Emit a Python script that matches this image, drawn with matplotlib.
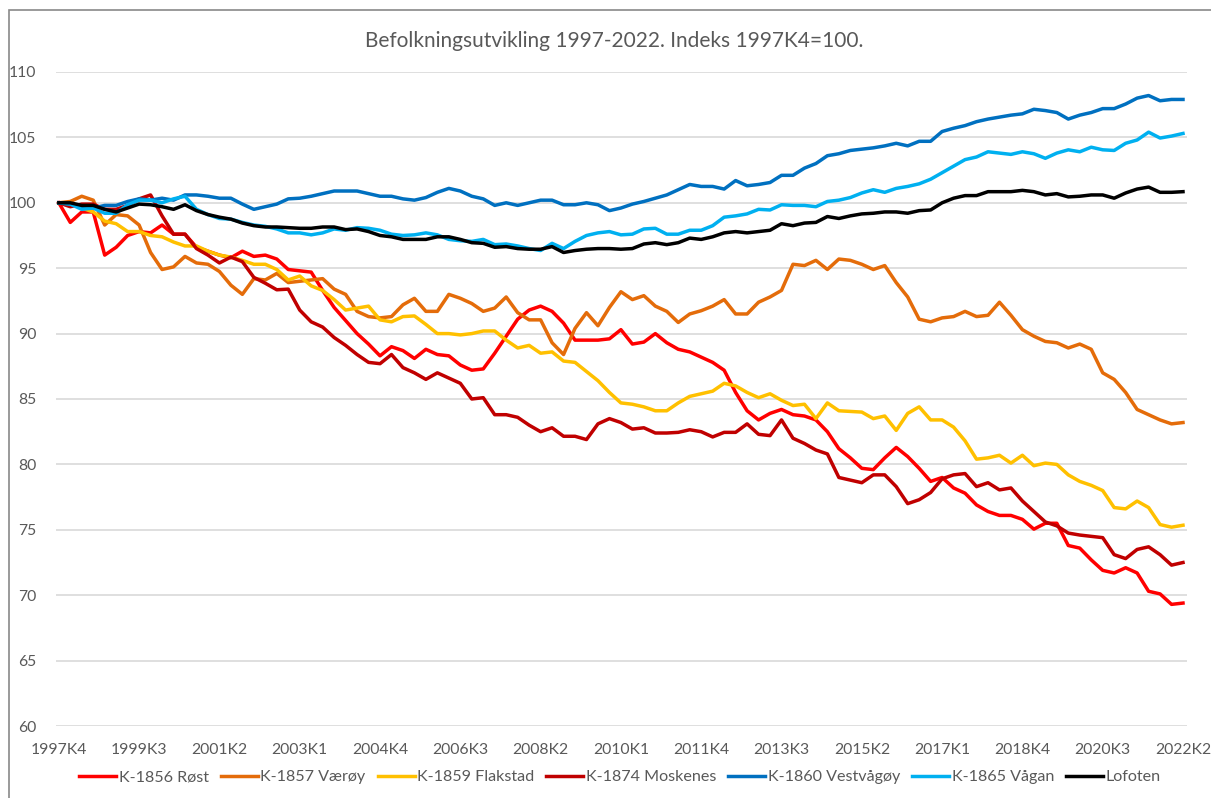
import matplotlib
matplotlib.use("Agg")
import matplotlib.pyplot as plt
from matplotlib.patches import Rectangle

plt.rcParams["font.family"] = ["Lato", "DejaVu Sans"]

# kvartaler 1997K4 .. 2022K2
kvartaler = ["1997K4"] + [f"{y}K{q}" for y in range(1998, 2022) for q in range(1, 5)] + ["2022K1", "2022K2"]

rost = [100, 98.5, 99.3, 99.3, 96.0, 96.6, 97.5, 97.8, 97.7, 98.3,
        97.6, 97.6, 96.6, 96.3, 96.0, 95.8, 96.3, 95.9, 96.0, 95.7,
        94.9, 94.8, 94.7, 93.3, 92.0, 91.0, 90.0, 89.2, 88.3, 89.0,
        88.7, 88.1, 88.8, 88.4, 88.3, 87.6, 87.2, 87.3, 88.5, 89.8,
        91.1, 91.8, 92.1, 91.7, 90.8, 89.5, 89.5, 89.5, 89.6, 90.3,
        89.2, 89.35, 90.0, 89.3, 88.8, 88.6, 88.2, 87.8, 87.2, 85.5,
        84.1, 83.4, 83.9, 84.2, 83.8, 83.7, 83.4, 82.5, 81.2, 80.5,
        79.7, 79.6, 80.5, 81.3, 80.6, 79.7, 78.7, 79.0, 78.2, 77.8,
        76.9, 76.4, 76.1, 76.1, 75.8, 75.05, 75.5, 75.5, 73.8, 73.6,
        72.7, 71.9, 71.7, 72.1, 71.7, 70.3, 70.1, 69.3, 69.4]

vaeroy = [100, 100.1, 100.5, 100.2, 98.3, 99.1, 99.0, 98.3, 96.2, 94.9,
          95.1, 95.9, 95.4, 95.3, 94.75, 93.7, 93.0, 94.2, 94.1, 94.6,
          93.9, 94.0, 94.1, 94.2, 93.4, 93.0, 91.7, 91.3, 91.2, 91.3,
          92.2, 92.7, 91.7, 91.7, 93.0, 92.7, 92.3, 91.7, 91.95, 92.8,
          91.6, 91.05, 91.05, 89.3, 88.4, 90.4, 91.6, 90.6, 92.0, 93.2,
          92.6, 92.9, 92.1, 91.7, 90.85, 91.5, 91.75, 92.1, 92.6, 91.5,
          91.5, 92.4, 92.8, 93.3, 95.3, 95.2, 95.6, 94.9, 95.7, 95.6,
          95.3, 94.9, 95.2, 93.9, 92.8, 91.1, 90.9, 91.2, 91.3, 91.7,
          91.3, 91.4, 92.4, 91.4, 90.3, 89.8, 89.4, 89.3, 88.9, 89.2,
          88.8, 87.0, 86.5, 85.5, 84.2, 83.8, 83.4, 83.1, 83.2]

flakstad = [100, 100, 99.6, 99.3, 98.6, 98.4, 97.8, 97.8, 97.5, 97.4,
            97.0, 96.7, 96.7, 96.3, 96.0, 95.85, 95.6, 95.3, 95.3, 94.9,
            94.1, 94.4, 93.65, 93.3, 92.6, 91.8, 91.95, 92.1, 91.05, 90.9,
            91.3, 91.35, 90.7, 90.0, 90.0, 89.9, 90.0, 90.2, 90.2, 89.5,
            88.9, 89.1, 88.5, 88.6, 87.9, 87.8, 87.1, 86.4, 85.5, 84.7,
            84.6, 84.4, 84.1, 84.1, 84.7, 85.2, 85.4, 85.6, 86.2, 86.0,
            85.5, 85.1, 85.4, 84.9, 84.5, 84.6, 83.5, 84.7, 84.1, 84.05,
            84.0, 83.5, 83.7, 82.6, 83.9, 84.4, 83.4, 83.4, 82.85, 81.8,
            80.4, 80.5, 80.7, 80.1, 80.7, 79.9, 80.1, 80.0, 79.2, 78.7,
            78.4, 78.0, 76.7, 76.6, 77.2, 76.7, 75.4, 75.2, 75.35]

moskenes = [100, 99.7, 99.9, 99.9, 99.5, 99.5, 99.8, 100.3, 100.6, 99.0,
            97.6, 97.6, 96.5, 96.0, 95.4, 95.85, 95.5, 94.3, 93.85, 93.35,
            93.4, 91.8, 90.9, 90.5, 89.7, 89.1, 88.4, 87.8, 87.7, 88.4,
            87.4, 87.0, 86.5, 87.0, 86.6, 86.2, 85.0, 85.1, 83.8, 83.8,
            83.6, 83.0, 82.5, 82.8, 82.15, 82.15, 81.9, 83.1, 83.5, 83.2,
            82.7, 82.8, 82.4, 82.4, 82.45, 82.65, 82.5, 82.1, 82.45, 82.45,
            83.1, 82.3, 82.2, 83.4, 82.0, 81.6, 81.1, 80.8, 79.0, 78.8,
            78.6, 79.2, 79.2, 78.3, 77.0, 77.3, 77.85, 78.9, 79.2, 79.3,
            78.3, 78.6, 78.05, 78.2, 77.2, 76.4, 75.6, 75.3, 74.75, 74.6,
            74.5, 74.4, 73.1, 72.8, 73.5, 73.7, 73.1, 72.3, 72.5]

vestvagoy = [100, 99.9, 99.7, 99.6, 99.8, 99.8, 100.1, 100.3, 100.2, 100.35,
             100.2, 100.6, 100.6, 100.5, 100.35, 100.35, 99.9, 99.5, 99.7, 99.9,
             100.3, 100.35, 100.5, 100.7, 100.9, 100.9, 100.9, 100.7, 100.5, 100.5,
             100.3, 100.2, 100.4, 100.8, 101.1, 100.9, 100.5, 100.3, 99.8, 100.0,
             99.8, 100.0, 100.2, 100.2, 99.85, 99.85, 100.0, 99.85, 99.4, 99.6,
             99.9, 100.1, 100.35, 100.6, 101.0, 101.4, 101.25, 101.25, 101.05, 101.7,
             101.3, 101.4, 101.55, 102.1, 102.1, 102.65, 103.0, 103.6, 103.75, 104.0,
             104.1, 104.2, 104.35, 104.55, 104.35, 104.7, 104.7, 105.45, 105.7, 105.9,
             106.2, 106.4, 106.55, 106.7, 106.8, 107.15, 107.05, 106.9, 106.4, 106.7,
             106.9, 107.2, 107.2, 107.55, 108.0, 108.2, 107.8, 107.9, 107.9]

vagan = [100, 99.9, 99.5, 99.6, 99.2, 99.2, 99.85, 100.2, 100.2, 100.0,
         100.3, 100.5, 99.5, 99.1, 98.8, 98.75, 98.5, 98.3, 98.2, 98.0,
         97.7, 97.7, 97.55, 97.7, 98.0, 97.9, 98.1, 98.05, 97.9, 97.6,
         97.5, 97.55, 97.7, 97.55, 97.2, 97.1, 97.05, 97.2, 96.8, 96.85,
         96.7, 96.5, 96.35, 96.9, 96.5, 97.05, 97.5, 97.7, 97.8, 97.55,
         97.6, 98.0, 98.05, 97.6, 97.6, 97.9, 97.9, 98.25, 98.9, 99.0,
         99.15, 99.5, 99.45, 99.85, 99.8, 99.8, 99.7, 100.1, 100.2, 100.4,
         100.75, 101.0, 100.8, 101.1, 101.25, 101.45, 101.8, 102.3, 102.8, 103.3,
         103.5, 103.9, 103.8, 103.7, 103.9, 103.75, 103.4, 103.8, 104.05, 103.9,
         104.25, 104.05, 104.0, 104.55, 104.8, 105.4, 104.95, 105.1, 105.3]

lofoten = [100, 100, 99.8, 99.8, 99.5, 99.3, 99.6, 99.9, 99.85, 99.7,
           99.5, 99.85, 99.4, 99.1, 98.9, 98.75, 98.45, 98.25, 98.15, 98.15,
           98.1, 98.05, 98.05, 98.15, 98.15, 97.95, 98.0, 97.8, 97.5, 97.4,
           97.2, 97.2, 97.2, 97.4, 97.4, 97.2, 96.95, 96.9, 96.6, 96.65,
           96.5, 96.45, 96.45, 96.65, 96.2, 96.35, 96.45, 96.5, 96.5, 96.45,
           96.5, 96.85, 96.95, 96.8, 96.95, 97.3, 97.2, 97.4, 97.7, 97.8,
           97.7, 97.8, 97.9, 98.4, 98.25, 98.45, 98.5, 98.95, 98.8, 99.0,
           99.15, 99.2, 99.3, 99.3, 99.2, 99.4, 99.45, 100.0, 100.35, 100.55,
           100.55, 100.85, 100.85, 100.85, 100.95, 100.85, 100.6, 100.7, 100.45, 100.5,
           100.6, 100.6, 100.35, 100.75, 101.05, 101.2, 100.8, 100.8, 100.85]

serier = [
    ("K-1856 Røst", rost, "#FF0000"),
    ("K-1857 Værøy", vaeroy, "#E46C0A"),
    ("K-1859 Flakstad", flakstad, "#FFC000"),
    ("K-1874 Moskenes", moskenes, "#C00000"),
    ("K-1860 Vestvågøy", vestvagoy, "#0070C0"),
    ("K-1865 Vågan", vagan, "#00B0F0"),
    ("Lofoten", lofoten, "#000000"),
]

fig = plt.figure(figsize=(12.11, 7.98), dpi=100)
ax = fig.add_axes([0.0462, 0.0902, 0.934, 0.8196])

x = list(range(len(kvartaler)))
for navn, verdier, farge in serier:
    ax.plot(x, verdier, color=farge, lw=2.5, label=navn, solid_joinstyle="round")

ax.set_ylim(60, 110)
ax.set_yticks(range(60, 111, 5))
ax.set_xlim(-0.25, 98.35)
ax.set_xticks(x[::7])
ax.set_xticklabels(kvartaler[::7])
ax.grid(axis="y", color="#D9D9D9", lw=1.2)
ax.set_axisbelow(True)
for s in ax.spines.values():
    s.set_visible(False)
ax.tick_params(axis="both", length=0, labelsize=11.3, labelcolor="#595959")
ax.tick_params(axis="x", pad=12)
ax.tick_params(axis="y", pad=14)

fig.text(0.507, 0.949, "Befolkningsutvikling 1997-2022. Indeks 1997K4=100.",
         ha="center", va="center", fontsize=15, color="#595959")

fig.legend(loc="center", bbox_to_anchor=(0.512, 0.026), ncol=7, frameon=False,
           fontsize=11.6, handlelength=2.3, handletextpad=0.15, columnspacing=0.75,
           labelcolor="#595959")

# ramme rundt diagrammet
fig.patches.append(Rectangle((8.5 / 1211, -0.05), 1.1, 1.05 - 10.5 / 798,
                             transform=fig.transFigure, fill=False,
                             edgecolor="#898989", lw=1.2))

fig.savefig("out.png", dpi=100)
